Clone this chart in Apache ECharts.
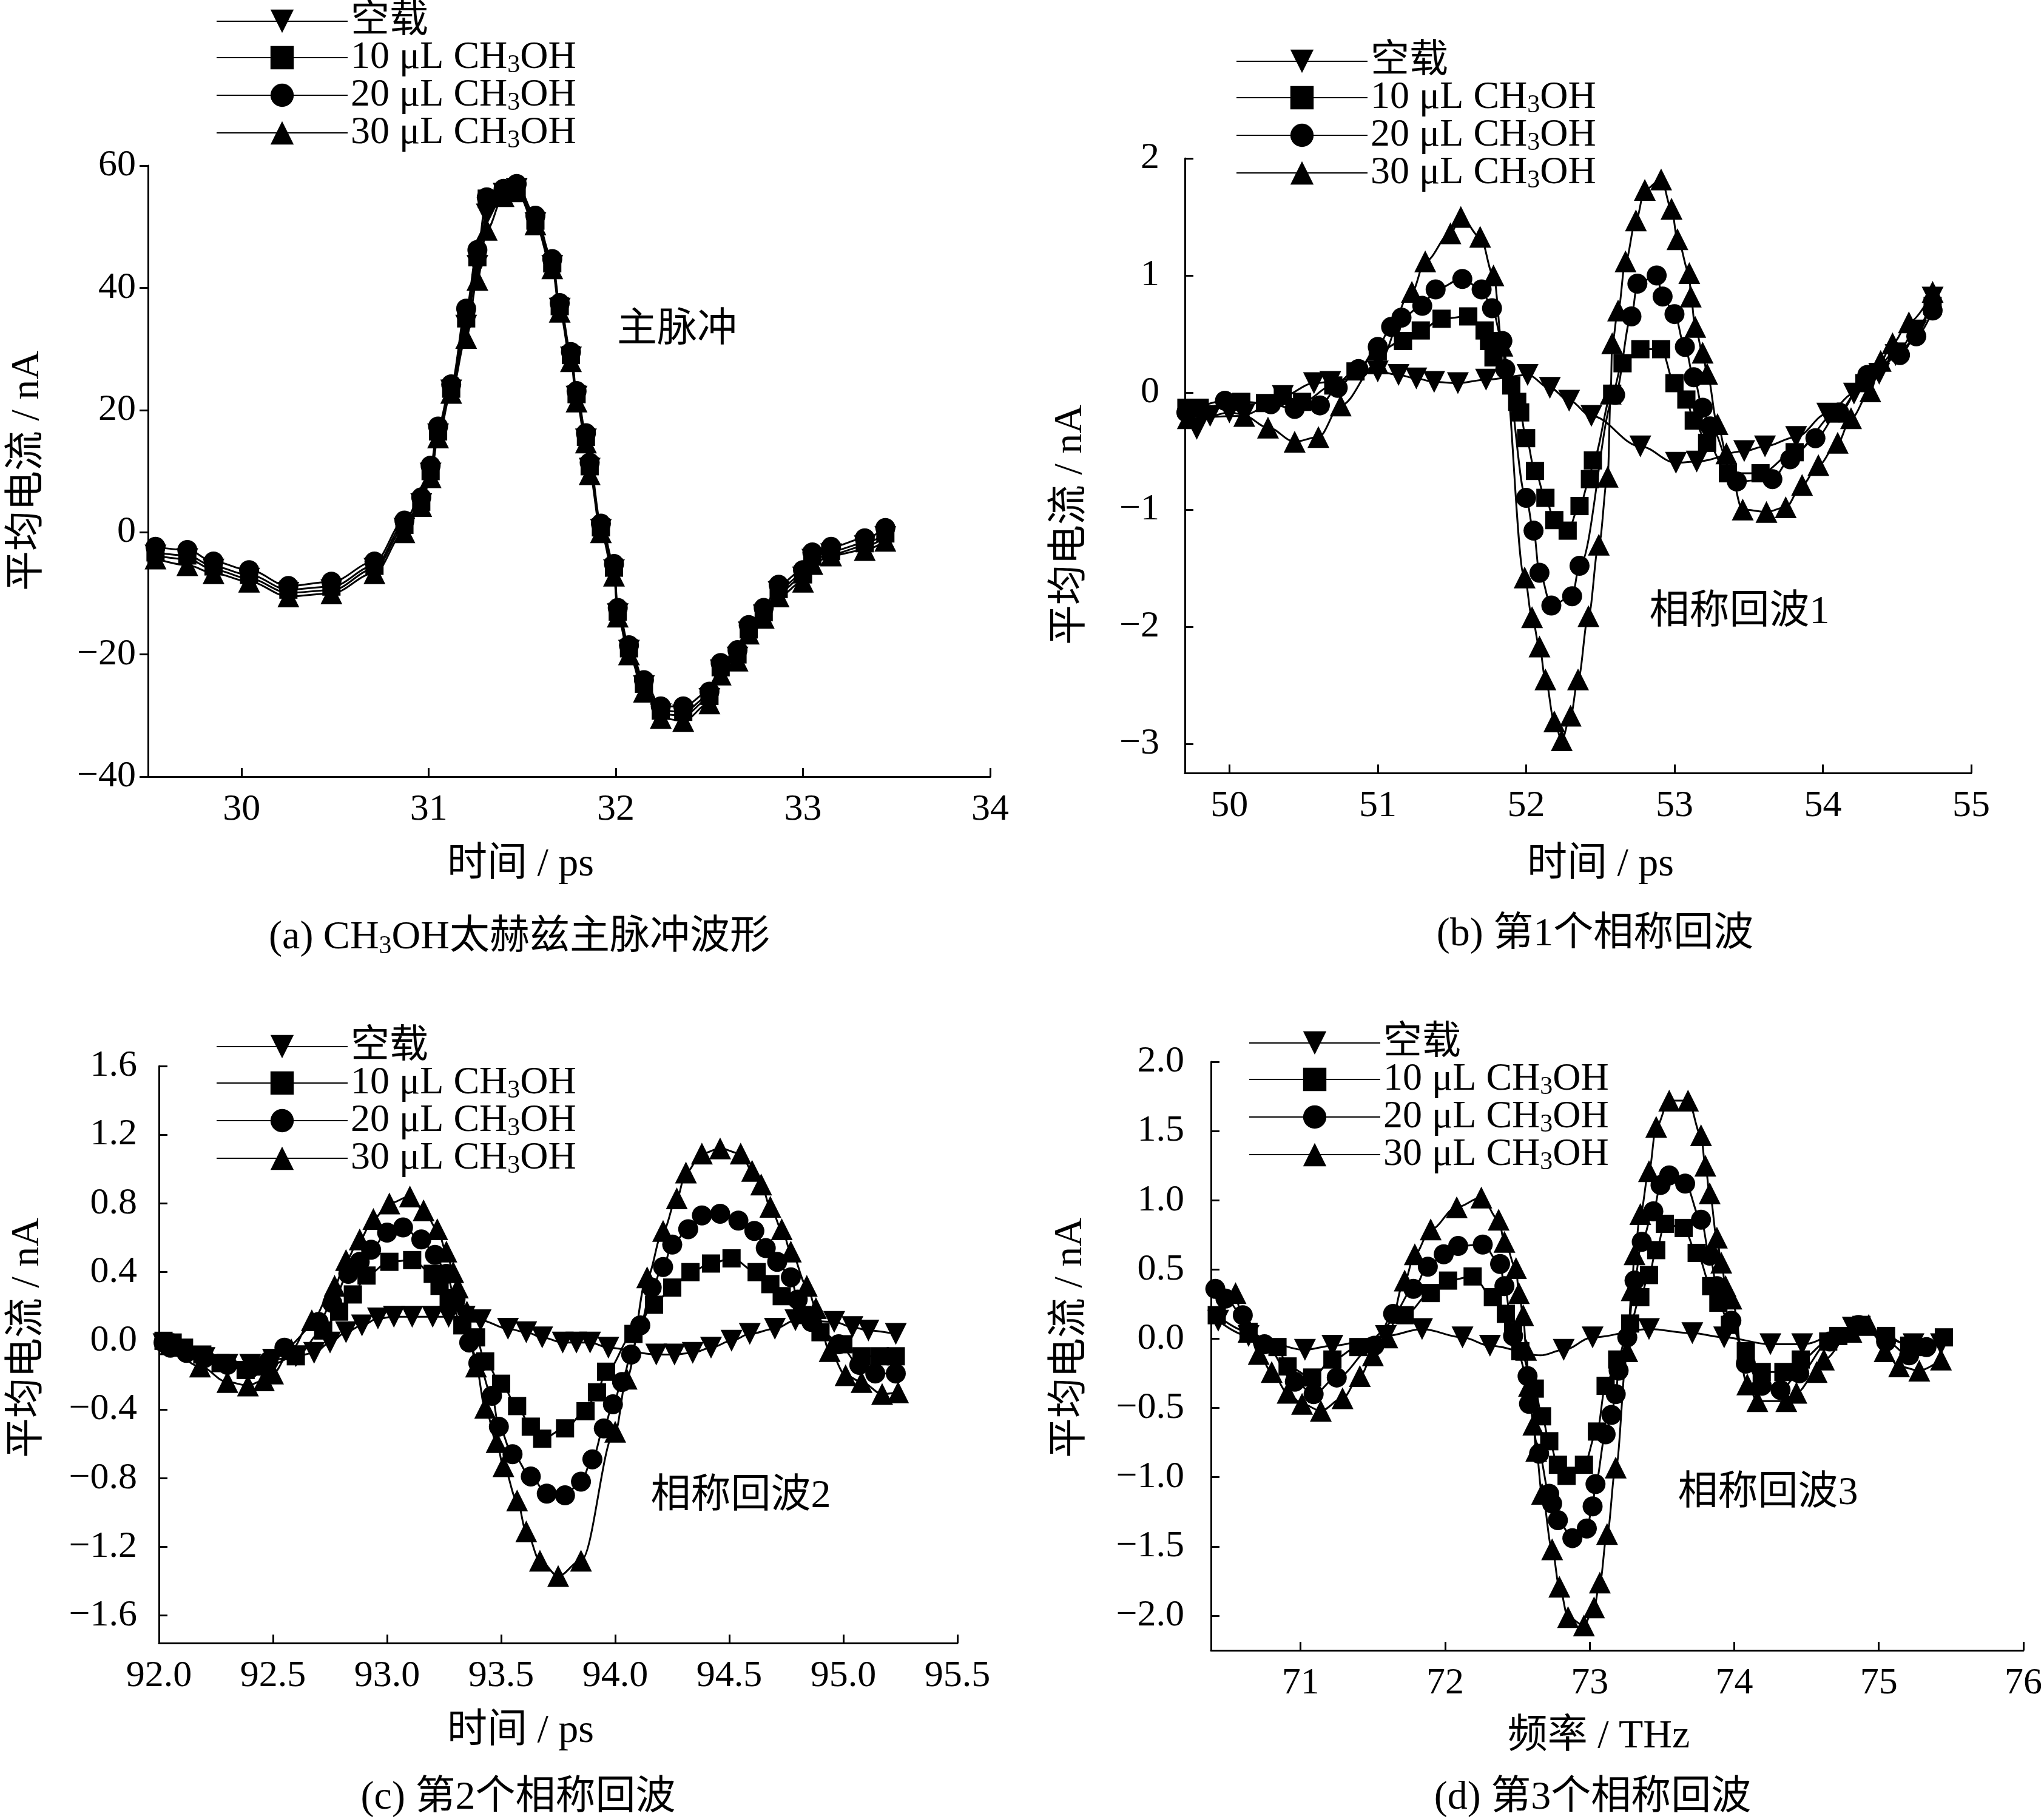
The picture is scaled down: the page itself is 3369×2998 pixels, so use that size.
<!DOCTYPE html>
<html>
<head>
<meta charset="utf-8">
<script src="https://cdn.jsdelivr.net/npm/echarts@6/dist/echarts.min.js"></script>
<style>
html,body{margin:0;padding:0;background:#fff}
#main{width:3369px;height:2998px}
</style>
</head>
<body>
<div id="main"></div>
<script>
// series names
var names = ['空载', '10 μL CH3OH', '20 μL CH3OH', '30 μL CH3OH'];

// (a) main pulse, shared time samples
var a_x = [29.54, 29.71, 29.85, 30.04, 30.25, 30.48, 30.71, 30.87, 30.96, 31.01, 31.05, 31.12, 31.20, 31.26, 31.31, 31.40, 31.47, 31.57, 31.66, 31.70, 31.76, 31.79, 31.84, 31.86, 31.92, 31.99, 32.01, 32.07, 32.15, 32.24, 32.36, 32.50, 32.56, 32.65, 32.71, 32.79, 32.87, 33.00, 33.05, 33.15, 33.33, 33.44];
var a_e = [-3.8, -4.4, -6.1, -7.6, -9.9, -9.5, -6.0, 0.6, 4.6, 9.6, 16.0, 23.2, 33.8, 43.6, 52.0, 55.4, 56.2, 50.6, 43.6, 36.6, 28.6, 22.2, 15.2, 10.4, 0.4, -6.2, -13.4, -19.4, -25.2, -29.8, -30.0, -27.3, -22.6, -20.5, -16.4, -13.6, -9.8, -7.4, -4.5, -3.6, -2.3, -0.8];
var a_s10 = [-3.3, -3.8, -5.6, -7.0, -9.4, -8.9, -5.5, 1.2, 5.0, 10.0, 16.5, 23.5, 35.0, 45.0, 54.6, 55.6, 56.4, 51.0, 44.0, 37.0, 29.0, 22.6, 15.6, 10.8, 0.8, -5.8, -13.0, -19.0, -24.8, -29.2, -29.4, -26.8, -22.1, -20.0, -15.9, -13.1, -9.3, -6.9, -4.0, -3.1, -1.8, -0.2];
var a_c20 = [-2.4, -2.9, -4.8, -6.2, -8.8, -8.1, -4.8, 1.9, 5.7, 10.9, 17.3, 24.2, 36.6, 46.2, 54.8, 56.2, 57.0, 51.8, 44.7, 37.5, 29.5, 23.1, 16.2, 11.4, 1.4, -5.2, -12.4, -18.5, -24.2, -28.5, -28.5, -26.1, -21.4, -19.3, -15.2, -12.4, -8.6, -6.2, -3.3, -2.4, -1.0, 0.7];
var a_t30 = [-4.3, -5.4, -6.7, -8.1, -10.5, -10.0, -6.7, 0.0, 4.3, 9.0, 15.5, 22.8, 31.8, 41.3, 49.5, 55.0, 55.8, 50.4, 43.2, 36.1, 28.0, 21.4, 14.7, 9.5, 0.0, -7.1, -13.8, -20.0, -26.1, -30.4, -30.9, -28.0, -23.3, -21.0, -16.6, -14.0, -10.5, -8.1, -5.2, -3.8, -2.9, -1.4];

// (b) echo 1, [time, current]
var b_e = [[49.78,-0.31],[49.87,-0.20],[50.0,-0.17],[50.1,-0.19],[50.36,-0.03],[50.57,0.08],[50.68,0.09],[51.0,0.18],[51.14,0.15],[51.26,0.12],[51.38,0.09],[51.54,0.08],[51.73,0.11],[52.01,0.15],[52.16,0.04],[52.29,-0.07],[52.44,-0.20],[52.77,-0.46],[53.01,-0.60],[53.15,-0.59],[53.47,-0.50],[53.61,-0.46],[53.82,-0.38],[54.03,-0.18],[54.21,-0.01],[54.38,0.16],[54.49,0.32],[54.63,0.53],[54.74,0.81]];
var b_s10 = [[49.71,-0.13],[49.8,-0.13],[50.08,-0.08],[50.24,-0.09],[50.36,-0.03],[50.49,-0.08],[50.70,0.06],[50.85,0.18],[51.0,0.35],[51.17,0.44],[51.29,0.53],[51.43,0.63],[51.61,0.65],[51.72,0.53],[51.75,0.44],[51.78,0.30],[51.90,0.06],[51.94,-0.08],[51.96,-0.17],[52.0,-0.39],[52.06,-0.67],[52.13,-0.90],[52.19,-1.09],[52.28,-1.18],[52.36,-0.97],[52.43,-0.74],[52.45,-0.58],[52.58,-0.01],[52.65,0.25],[52.77,0.37],[52.91,0.37],[53.0,0.08],[53.08,-0.06],[53.13,-0.24],[53.22,-0.43],[53.36,-0.69],[53.58,-0.69],[53.81,-0.51],[54.09,-0.18],[54.28,0.08],[54.5,0.35],[54.74,0.74]];
var b_c20 = [[49.71,-0.17],[49.97,-0.07],[50.28,-0.10],[50.44,-0.14],[50.61,-0.11],[50.73,0.04],[50.87,0.20],[51.0,0.39],[51.09,0.56],[51.16,0.64],[51.30,0.74],[51.39,0.88],[51.57,0.97],[51.70,0.88],[51.77,0.72],[51.84,0.44],[51.86,0.20],[52.0,-0.90],[52.05,-1.18],[52.09,-1.54],[52.17,-1.82],[52.31,-1.74],[52.36,-1.48],[52.60,-0.02],[52.71,0.65],[52.75,0.93],[52.88,1.0],[52.92,0.82],[53.0,0.67],[53.07,0.39],[53.13,0.13],[53.19,-0.13],[53.24,-0.29],[53.42,-0.76],[53.66,-0.74],[53.78,-0.57],[53.95,-0.39],[54.11,-0.17],[54.30,0.15],[54.52,0.32],[54.63,0.48],[54.74,0.70]];
var b_t30 = [[49.72,-0.22],[50.1,-0.20],[50.26,-0.30],[50.44,-0.42],[50.6,-0.38],[50.75,-0.11],[51.0,0.25],[51.23,0.86],[51.32,1.12],[51.49,1.36],[51.56,1.50],[51.69,1.33],[51.78,1.0],[51.84,0.40],[51.99,-1.58],[52.04,-1.92],[52.09,-2.17],[52.13,-2.45],[52.19,-2.81],[52.24,-2.97],[52.30,-2.76],[52.35,-2.45],[52.42,-1.91],[52.49,-1.30],[52.55,-0.72],[52.57,-0.01],[52.58,0.42],[52.62,0.70],[52.67,1.12],[52.74,1.47],[52.80,1.73],[52.91,1.82],[52.98,1.57],[53.02,1.31],[53.10,1.02],[53.11,0.82],[53.14,0.56],[53.19,0.34],[53.22,0.16],[53.29,-0.27],[53.35,-0.52],[53.46,-1.0],[53.62,-1.02],[53.75,-0.98],[53.86,-0.79],[53.97,-0.62],[54.10,-0.43],[54.19,-0.22],[54.32,0.01],[54.39,0.27],[54.47,0.42],[54.58,0.60],[54.74,0.86]];

// (c) echo 2
var c_e = [[92.02,-0.02],[92.1,-0.06],[92.2,-0.1],[92.3,-0.14],[92.4,-0.14],[92.5,-0.11],[92.6,-0.09],[92.68,-0.07],[92.75,-0.01],[92.82,0.05],[92.89,0.09],[92.96,0.13],[93.03,0.14],[93.11,0.14],[93.20,0.14],[93.27,0.14],[93.34,0.14],[93.41,0.12],[93.53,0.07],[93.61,0.05],[93.68,0.02],[93.77,-0.01],[93.83,-0.01],[93.89,-0.01],[93.97,-0.04],[94.18,-0.08],[94.26,-0.08],[94.34,-0.07],[94.42,-0.04],[94.51,0.0],[94.59,0.04],[94.70,0.07],[94.79,0.12],[94.96,0.11],[95.04,0.08],[95.11,0.06],[95.23,0.04]];
var c_s10 = [[92.02,0.0],[92.06,-0.01],[92.11,-0.04],[92.19,-0.08],[92.27,-0.13],[92.38,-0.17],[92.47,-0.15],[92.6,-0.09],[92.72,0.06],[92.79,0.17],[92.85,0.27],[92.91,0.38],[93.01,0.46],[93.11,0.47],[93.20,0.39],[93.23,0.32],[93.27,0.25],[93.33,0.09],[93.39,0.02],[93.43,-0.12],[93.50,-0.25],[93.57,-0.38],[93.63,-0.50],[93.68,-0.57],[93.78,-0.51],[93.87,-0.41],[93.92,-0.30],[93.96,-0.18],[94.08,0.04],[94.17,0.21],[94.25,0.31],[94.33,0.40],[94.42,0.45],[94.51,0.48],[94.62,0.40],[94.68,0.33],[94.73,0.26],[94.82,0.15],[94.9,0.05],[95.0,-0.02],[95.08,-0.09],[95.16,-0.09],[95.23,-0.09]];
var c_c20 = [[92.02,-0.01],[92.05,-0.04],[92.12,-0.07],[92.2,-0.1],[92.3,-0.14],[92.4,-0.16],[92.48,-0.12],[92.55,-0.04],[92.70,0.11],[92.76,0.22],[92.83,0.39],[92.88,0.46],[92.93,0.53],[93.0,0.63],[93.07,0.66],[93.15,0.59],[93.21,0.50],[93.26,0.39],[93.30,0.24],[93.36,-0.01],[93.40,-0.13],[93.46,-0.32],[93.49,-0.50],[93.55,-0.66],[93.63,-0.79],[93.70,-0.89],[93.78,-0.90],[93.85,-0.82],[93.90,-0.69],[93.95,-0.51],[93.99,-0.37],[94.03,-0.24],[94.07,-0.08],[94.11,0.09],[94.16,0.31],[94.21,0.43],[94.25,0.56],[94.32,0.65],[94.38,0.73],[94.46,0.74],[94.54,0.70],[94.61,0.64],[94.66,0.54],[94.71,0.46],[94.77,0.37],[94.80,0.24],[94.86,0.11],[94.98,-0.02],[95.07,-0.14],[95.14,-0.19],[95.23,-0.19]];
var c_t30 = [[92.05,-0.02],[92.18,-0.15],[92.30,-0.24],[92.39,-0.26],[92.46,-0.23],[92.50,-0.19],[92.58,-0.05],[92.67,0.12],[92.77,0.32],[92.82,0.47],[92.88,0.59],[92.94,0.71],[93.01,0.80],[93.10,0.84],[93.16,0.76],[93.22,0.65],[93.26,0.52],[93.29,0.40],[93.31,0.31],[93.35,0.17],[93.39,-0.15],[93.43,-0.39],[93.48,-0.59],[93.51,-0.73],[93.57,-0.93],[93.61,-1.11],[93.67,-1.28],[93.75,-1.37],[93.85,-1.28],[94.0,-0.53],[94.05,-0.22],[94.14,0.37],[94.21,0.64],[94.27,0.83],[94.31,0.98],[94.38,1.09],[94.46,1.12],[94.55,1.09],[94.60,0.99],[94.64,0.91],[94.68,0.78],[94.73,0.65],[94.77,0.52],[94.84,0.32],[94.88,0.19],[94.94,-0.06],[95.01,-0.20],[95.08,-0.24],[95.17,-0.31],[95.24,-0.30]];

// (d) echo 3 (entries with symbol:'none' are curve points without a marker)
var d_e = [[70.43,0.13],[70.64,0.02],[71.03,-0.08],[71.22,-0.05],[71.59,0.02],[71.84,0.07],[72.12,0.01],[72.31,-0.05],{value:[72.66,-0.12],symbol:'none'},[72.82,-0.08],[73.02,0.01],[73.41,0.07],[73.71,0.04],[73.93,0.01],[74.25,-0.04],[74.47,-0.04],[74.82,0.08],[75.24,-0.04],[75.43,-0.04]];
var d_s10 = [[70.42,0.17],[70.64,0.05],[70.84,-0.06],[70.91,-0.20],[71.08,-0.28],[71.22,-0.15],[71.4,-0.06],[71.72,0.17],[71.90,0.33],[72.02,0.42],[72.19,0.45],[72.33,0.30],[72.42,0.18],[72.47,0.05],[72.52,-0.09],[72.62,-0.36],[72.67,-0.56],[72.72,-0.74],[72.78,-0.91],[72.84,-0.99],[72.96,-0.91],[73.05,-0.67],[73.11,-0.34],[73.19,-0.15],[73.28,0.11],[73.35,0.30],[73.41,0.46],[73.46,0.64],[73.52,0.83],[73.65,0.80],[73.74,0.62],[73.84,0.38],[73.89,0.26],[73.97,0.10],[74.08,-0.09],[74.19,-0.24],[74.34,-0.24],[74.46,-0.15],[74.65,-0.02],[74.72,0.02],[74.88,0.10],[75.05,0.02],[75.21,-0.05],[75.29,-0.06],[75.45,0.01]];
var d_c20 = [[70.41,0.36],[70.48,0.29],[70.60,0.17],[70.75,-0.04],[70.96,-0.31],[71.09,-0.40],[71.25,-0.28],[71.51,-0.05],[71.64,0.18],[71.78,0.36],[71.88,0.52],[71.99,0.61],[72.09,0.67],[72.26,0.68],[72.38,0.54],[72.41,0.38],[72.47,0.02],[72.57,-0.27],[72.58,-0.47],[72.65,-0.83],[72.72,-1.12],[72.74,-1.19],[72.78,-1.31],[72.88,-1.44],[72.98,-1.37],[73.02,-1.21],[73.04,-1.05],[73.11,-0.69],[73.15,-0.55],[73.18,-0.40],[73.20,-0.23],[73.26,0.01],[73.31,0.42],[73.36,0.70],[73.44,0.92],[73.49,1.11],[73.55,1.18],[73.66,1.12],[73.77,0.86],[73.83,0.60],[73.88,0.38],[73.98,0.13],[74.08,-0.18],[74.19,-0.34],[74.32,-0.37],[74.45,-0.25],[74.66,-0.02],[74.86,0.10],[75.05,-0.02],[75.21,-0.12],[75.33,-0.06]];
var d_t30 = [[70.55,0.33],[70.64,0.05],[70.71,-0.11],[70.80,-0.24],[70.91,-0.39],[71.01,-0.47],[71.14,-0.52],[71.29,-0.43],[71.41,-0.27],[71.50,-0.12],[71.60,0.01],[71.72,0.42],[71.79,0.61],[71.90,0.79],[72.08,0.95],[72.25,1.02],[72.37,0.86],[72.41,0.70],[72.49,0.51],[72.51,0.33],[72.54,0.17],[72.56,-0.08],[72.58,-0.34],[72.61,-0.62],[72.63,-0.81],[72.67,-1.12],[72.74,-1.52],[72.79,-1.79],[72.85,-2.01],[72.96,-2.07],[73.03,-1.94],[73.07,-1.76],[73.12,-1.41],[73.18,-0.93],[73.26,-0.09],[73.29,0.35],[73.31,0.61],[73.35,0.90],[73.41,1.21],[73.46,1.53],[73.55,1.72],[73.68,1.72],[73.77,1.47],[73.80,1.25],[73.83,1.05],[73.88,0.73],[73.91,0.55],[73.94,0.38],[73.98,0.29],[74.09,-0.33],[74.16,-0.45],[74.36,-0.45],[74.43,-0.39],[74.57,-0.24],[74.62,-0.15],[74.81,0.05],[74.93,0.10],[75.04,-0.09],[75.14,-0.20],[75.28,-0.23],[75.43,-0.15]];

// tick labels
var a_xticks = [30, 31, 32, 33, 34];
var a_yticks = [-40, -20, 0, 20, 40, 60];
var b_xticks = [50, 51, 52, 53, 54, 55];
var b_yticks = [-3, -2, -1, 0, 1, 2];
var c_xticks = [92.0, 92.5, 93.0, 93.5, 94.0, 94.5, 95.0, 95.5];
var c_yticks = [-1.6, -1.2, -0.8, -0.4, 0.0, 0.4, 0.8, 1.2, 1.6];
var d_xticks = [71, 72, 73, 74, 75, 76];
var d_yticks = [-2.0, -1.5, -1.0, -0.5, 0.0, 0.5, 1.0, 1.5, 2.0];

var FONT = '"Liberation Serif", "Times New Roman", "Noto Sans CJK SC", serif';
var symbols = ['triangle', 'rect', 'circle', 'triangle'];
var rotates = [180, 0, 0, 0];
var sizes = [36, 30, 33, 36];

function pairs(xs, ys) {
    return xs.map(function (x, i) { return [x, ys[i]]; });
}
function minus(s) { return s.replace('-', '\u2212'); }

var panels = [
    {grid: {left: 244, top: 273, width: 1388, height: 1007}, xmin: 29.5, xmax: 34, ymin: -40, ymax: 60,
        xt: a_xticks, yt: a_yticks, dec: 0, xdec: 0, yOut: true, ym: 20,
        data: [pairs(a_x, a_e), pairs(a_x, a_s10), pairs(a_x, a_c20), pairs(a_x, a_t30)],
        legend: {left: 351, top: -2}},
    {grid: {left: 1953, top: 261, width: 1296, height: 1013}, xmin: 49.7, xmax: 55, ymin: -3.25, ymax: 2,
        xt: b_xticks, yt: b_yticks, dec: 0, xdec: 0, yOut: false, ym: 42,
        data: [b_e, b_s10, b_c20, b_t30],
        legend: {left: 2032, top: 64}},
    {grid: {left: 262, top: 1757, width: 1316, height: 951}, xmin: 92, xmax: 95.5, ymin: -1.76, ymax: 1.6,
        xt: c_xticks, yt: c_yticks, dec: 1, xdec: 1, yOut: false, ym: 36,
        data: [c_e, c_s10, c_c20, c_t30],
        legend: {left: 351, top: 1688}},
    {grid: {left: 1996, top: 1750, width: 1341, height: 970}, xmin: 70.38, xmax: 76, ymin: -2.25, ymax: 2.0,
        xt: d_xticks, yt: d_yticks, dec: 1, xdec: 0, yOut: false, ym: 44,
        data: [d_e, d_s10, d_c20, d_t30],
        legend: {left: 2053, top: 1682}}
];

var grids = [], xAxes = [], yAxes = [], series = [], legends = [];
var axisLine = {show: true, onZero: false, lineStyle: {color: '#000', width: 3}};
var labelStyle = {color: '#000', fontSize: 62, fontFamily: FONT};

panels.forEach(function (p, k) {
    grids.push(p.grid);
    xAxes.push({
        type: 'value', gridIndex: k, min: p.xmin, max: p.xmax,
        axisLine: axisLine,
        axisTick: {show: true, inside: true, length: 14, lineStyle: {color: '#000', width: 3}, customValues: p.xt},
        axisLabel: Object.assign({margin: 24, customValues: p.xt,
            formatter: function (v) { return v.toFixed(p.xdec); }}, labelStyle),
        splitLine: {show: false}
    });
    yAxes.push({
        type: 'value', gridIndex: k, min: p.ymin, max: p.ymax,
        axisLine: axisLine,
        axisTick: {show: true, inside: !p.yOut, length: 14, lineStyle: {color: '#000', width: 3}, customValues: p.yt},
        axisLabel: Object.assign({margin: p.ym, customValues: p.yt,
            formatter: function (v) { return minus(v.toFixed(p.dec)); }}, labelStyle),
        splitLine: {show: false}
    });
    p.data.forEach(function (d, i) {
        series.push({
            name: names[i], type: 'line', xAxisIndex: k, yAxisIndex: k,
            data: d, symbol: symbols[i], symbolRotate: rotates[i], symbolSize: sizes[i],
            smooth: 0.35, smoothMonotone: 'x',
            lineStyle: {color: '#000', width: 3},
            itemStyle: {color: '#000'},
            animation: false
        });
    });
    legends.push({
        left: p.legend.left, top: p.legend.top, orient: 'vertical',
        itemWidth: 216, itemHeight: 48, itemGap: -4, selectedMode: false,
        data: names,
        formatter: function (n) { return n.replace('CH3OH', 'CH{sub|3}OH'); },
        textStyle: {color: '#000', fontSize: 64, fontFamily: FONT,
            rich: {sub: {fontSize: 42, fontFamily: FONT, color: '#000', padding: [26, 0, 0, 0]}}}
    });
});

function txt(x, y, s, rot) {
    return {type: 'text', x: x, y: y, rotation: rot || 0,
        style: {text: s, fill: '#000', font: '66px ' + FONT, align: 'center', verticalAlign: 'middle',
            rich: {sub: {fontSize: 42, fontFamily: FONT, fill: '#000', padding: [28, 0, 0, 0]}}}};
}

var graphics = [
    // captions
    txt(856, 1546, '(a) CH{sub|3}OH太赫兹主脉冲波形'),
    txt(2629, 1541, '(b) 第1个相称回波'),
    txt(854, 2964, '(c) 第2个相称回波'),
    txt(2625, 2964, '(d) 第3个相称回波'),
    // x titles
    txt(858, 1426, '时间 / ps'),
    txt(2638, 1426, '时间 / ps'),
    txt(858, 2854, '时间 / ps'),
    txt(2635, 2863, '频率 / THz'),
    // y titles
    txt(46, 776, '平均电流 / nA', Math.PI / 2),
    txt(1765, 865, '平均电流 / nA', Math.PI / 2),
    txt(46, 2205, '平均电流 / nA', Math.PI / 2),
    txt(1765, 2205, '平均电流 / nA', Math.PI / 2),
    // annotations
    txt(1116, 545, '主脉冲'),
    txt(2867, 1010, '相称回波1'),
    txt(1221, 2467, '相称回波2'),
    txt(2914, 2462, '相称回波3')
];

var chart = echarts.init(document.getElementById('main'));
chart.setOption({
    backgroundColor: '#fff',
    animation: false,
    grid: grids,
    xAxis: xAxes,
    yAxis: yAxes,
    legend: legends,
    series: series,
    graphic: graphics
});
</script>
</body>
</html>
